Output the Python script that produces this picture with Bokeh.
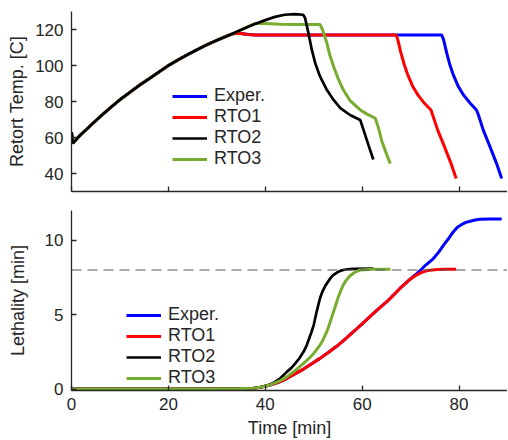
from bokeh.plotting import figure
from bokeh.layouts import column
from bokeh.models import Range1d, Legend, LegendItem, Span, FixedTicker
from bokeh.embed import file_html
from bokeh.resources import INLINE

# ---------------- data: retort temperature ----------------
rise_t = [0, 0.3, 1, 2, 4, 6, 8, 10, 12, 14, 16, 18, 20, 22, 24, 26, 28, 30, 32]
rise_T = [63, 56.8, 59.0, 61.8, 66.8, 71.8, 76.5, 81.0, 85.0, 89.0, 92.6, 96.3, 100.0, 103.1, 106.1, 108.9, 111.6, 114.0, 116.3]

exp_t = rise_t + [33.3, 34.5, 36.5, 38, 40, 60, 76.4,
                  76.8, 77.45, 78.1, 78.8, 79.85, 80.9, 82.3, 83.6, 84.0, 85.0, 86.4, 87.75, 88.8]
exp_T = rise_T + [117.6, 117.9, 117.2, 116.9, 117.0, 117.0, 117.0,
                  114.4, 107.0, 100.4, 94.9, 88.3, 83.7, 79.0, 75.3, 72.5, 64.1, 54.8, 45.5, 37.2]

rto1_t = rise_t + [33.3, 34.5, 36.5, 38, 40, 55, 67.0,
                   67.35, 68.0, 68.7, 69.4, 70.45, 71.5, 72.85, 74.2, 74.55, 75.6, 77.0, 78.35, 79.4]
rto1_T = rise_T + [117.6, 117.9, 117.2, 116.9, 117.0, 117.0, 117.0,
                   114.4, 107.0, 100.4, 94.9, 88.3, 83.7, 79.0, 75.3, 72.5, 64.1, 54.8, 45.5, 37.2]

rto2_t = rise_t + [34, 36, 37.6, 40, 42, 44, 46, 47.8,
                   48.2, 48.9, 49.6, 50.3, 51.3, 52.7, 54.1, 55.5, 57.5, 59.6, 60.3, 61.3, 62.3]
rto2_T = rise_T + [118.6, 121.0, 122.8, 125.2, 127.0, 128.2, 128.5, 128.2,
                   126.5, 118.1, 108.8, 101.4, 93.9, 86.5, 80.9, 76.3, 72.5, 69.7, 64.1, 55.8, 47.8]

rto3_t = rise_t + [34, 36, 37.8, 40, 43, 47, 51.3,
                   51.8, 52.7, 53.3, 54.1, 55.0, 56.1, 57.5, 59.6, 61.0, 62.7, 63.3, 64.0, 65.0, 65.8]
rto3_T = rise_T + [118.6, 121.0, 123.3, 123.3, 122.9, 122.8, 122.8,
                   120.0, 112.6, 106.0, 99.5, 93.0, 86.5, 80.5, 75.3, 73.0, 70.7, 66.0, 58.5, 51.0, 45.5]

# ---------------- data: lethality ----------------
base_t = [0, 20, 30, 35, 37.6, 39, 41, 43, 44.5, 46, 47.9, 49.5, 51.3, 53, 54.8, 56.5, 58.2,
          60, 61.6, 63.3, 65.1, 66.5, 67.8, 69, 69.9]
base_L = [0, 0, 0.01, 0.03, 0.05, 0.12, 0.27, 0.48, 0.72, 1.0, 1.34, 1.68, 2.06, 2.45, 2.89, 3.36, 3.85,
          4.38, 4.86, 5.37, 5.87, 6.33, 6.76, 7.12, 7.38]

exp_lt = base_t + [71, 72, 73, 74.7, 75.8, 76.8, 77.8, 78.8, 79.6, 80.5, 81.4, 82.3, 83.3, 84.3, 86.5, 88.8]
exp_L = base_L + [7.68, 7.97, 8.3, 8.77, 9.2, 9.67, 10.1, 10.56, 10.85, 11.05, 11.2, 11.28, 11.36, 11.41, 11.43, 11.43]

rto1_lt = base_t + [71, 72, 73, 74, 75.5, 77, 79.4]
rto1_L = base_L + [7.62, 7.8, 7.92, 7.99, 8.03, 8.05, 8.05]

rto2_lt = [0, 20, 30, 35, 37.6, 39.5, 41, 42, 43.1, 44.5, 45.4, 46.2, 47, 47.9, 48.5, 49, 49.5, 50,
           50.6, 51.3, 51.8, 52.4, 53.4, 54, 54.8, 55.5, 56.1, 57, 58.2, 62.3]
rto2_L = [0, 0, 0.01, 0.03, 0.05, 0.15, 0.3, 0.48, 0.72, 1.17, 1.42, 1.72, 2.05, 2.5, 2.9, 3.35, 3.8, 4.3,
          5.19, 6.1, 6.55, 6.95, 7.43, 7.65, 7.83, 7.94, 8.0, 8.05, 8.08, 8.1]

rto3_lt = [0, 20, 30, 35, 37.6, 39.5, 41, 43, 44.5, 46.2, 47.9, 49, 50, 51.3, 52, 52.7, 53.4, 54.1,
           54.6, 55.1, 55.6, 56.1, 56.8, 57.5, 58.5, 59.6, 62.3, 65.8]
rto3_L = [0, 0, 0.01, 0.03, 0.05, 0.15, 0.27, 0.55, 0.83, 1.25, 1.72, 2.05, 2.39, 2.95, 3.35, 3.85, 4.5, 5.2,
          5.7, 6.2, 6.62, 7.0, 7.35, 7.61, 7.85, 8.0, 8.05, 8.05]

target_L = 8
names = ["Exper.", "RTO1", "RTO2", "RTO3"]
colors = ["#0000FF", "#FF0000", "#000000", "#77AC30"]
x_ticks = [0, 20, 40, 60, 80]
T_ticks = [40, 60, 80, 100, 120]
L_ticks = [0, 5, 10]

FONT = "Liberation Sans"
TXT = "#262626"

def style(p, yticks):
    p.outline_line_color = None
    p.xgrid.visible = False
    p.ygrid.visible = False
    for ax in (p.xaxis[0], p.yaxis[0]):
        ax.axis_line_color = TXT
        ax.axis_line_width = 1.3
        ax.major_tick_line_color = TXT
        ax.major_tick_line_width = 1.3
        ax.major_tick_in = 5
        ax.major_tick_out = 0
        ax.minor_tick_line_color = None
        ax.major_label_text_font = FONT
        ax.major_label_text_font_size = "17px"
        ax.major_label_text_color = TXT
        ax.axis_label_text_font = FONT
        ax.axis_label_text_font_size = "18px"
        ax.axis_label_text_font_style = "normal"
        ax.axis_label_text_color = TXT
    p.xaxis[0].ticker = FixedTicker(ticks=x_ticks)
    p.yaxis[0].ticker = FixedTicker(ticks=yticks)
    p.yaxis[0].major_label_standoff = 8

x_range = Range1d(0, 90)

# ---------------- top panel ----------------
p1 = figure(output_backend="svg", toolbar_location=None, x_range=x_range,
            y_range=Range1d(30, 130), frame_width=436, frame_height=180,
            min_border_left=71, min_border_right=0, min_border_top=11, min_border_bottom=8)
style(p1, T_ticks)
p1.yaxis.axis_label = "Retort Temp. [C]"
p1.yaxis.axis_label_standoff = 5
p1.xaxis.major_label_overrides = {t: "" for t in x_ticks}
p1.xaxis.major_label_standoff = 0

r_exp = p1.line(exp_t, exp_T, line_color=colors[0], line_width=3)
r_r1 = p1.line(rto1_t, rto1_T, line_color=colors[1], line_width=3)
r_r3 = p1.line(rto3_t, rto3_T, line_color=colors[3], line_width=3)
r_r2 = p1.line(rto2_t, rto2_T, line_color=colors[2], line_width=2.7)

leg1 = Legend(items=[LegendItem(label=names[0], renderers=[r_exp]),
                     LegendItem(label=names[1], renderers=[r_r1]),
                     LegendItem(label=names[2], renderers=[r_r2]),
                     LegendItem(label=names[3], renderers=[r_r3])],
              location=(101, 22))

# ---------------- bottom panel ----------------
p2 = figure(output_backend="svg", toolbar_location=None, x_range=x_range,
            y_range=Range1d(-0.1, 12), frame_width=436, frame_height=180,
            min_border_left=71, min_border_right=0, min_border_top=11, min_border_bottom=48)
style(p2, L_ticks)
p2.yaxis.axis_label = "Lethality [min]"
p2.yaxis.axis_label_standoff = 14
p2.xaxis.axis_label = "Time [min]"
p2.xaxis.major_label_standoff = 7
p2.xaxis.axis_label_standoff = 5

p2.add_layout(Span(location=target_L, dimension="width", line_color="#555555",
                   line_width=1.2, line_dash="10 6"))

q_exp = p2.line(exp_lt, exp_L, line_color=colors[0], line_width=3)
q_r1 = p2.line(rto1_lt, rto1_L, line_color=colors[1], line_width=3)
q_r2 = p2.line(rto2_lt, rto2_L, line_color=colors[2], line_width=2.7)
q_r3 = p2.line(rto3_lt, rto3_L, line_color=colors[3], line_width=3)

leg2 = Legend(items=[LegendItem(label=names[0], renderers=[q_exp]),
                     LegendItem(label=names[1], renderers=[q_r1]),
                     LegendItem(label=names[2], renderers=[q_r2]),
                     LegendItem(label=names[3], renderers=[q_r3])],
              location=(55, 2))

for leg, p in ((leg1, p1), (leg2, p2)):
    leg.border_line_alpha = 0
    leg.background_fill_alpha = 0
    leg.padding = 0
    leg.margin = 0
    leg.spacing = 0
    leg.glyph_width = 35
    leg.glyph_height = 20
    leg.label_height = 20
    leg.label_standoff = 7
    leg.label_text_font = FONT
    leg.label_text_font_size = "18px"
    leg.label_text_color = TXT
    p.add_layout(leg, "center")

layout = column(p1, p2, spacing=0)
open("out.html", "w").write(file_html(layout, INLINE))
